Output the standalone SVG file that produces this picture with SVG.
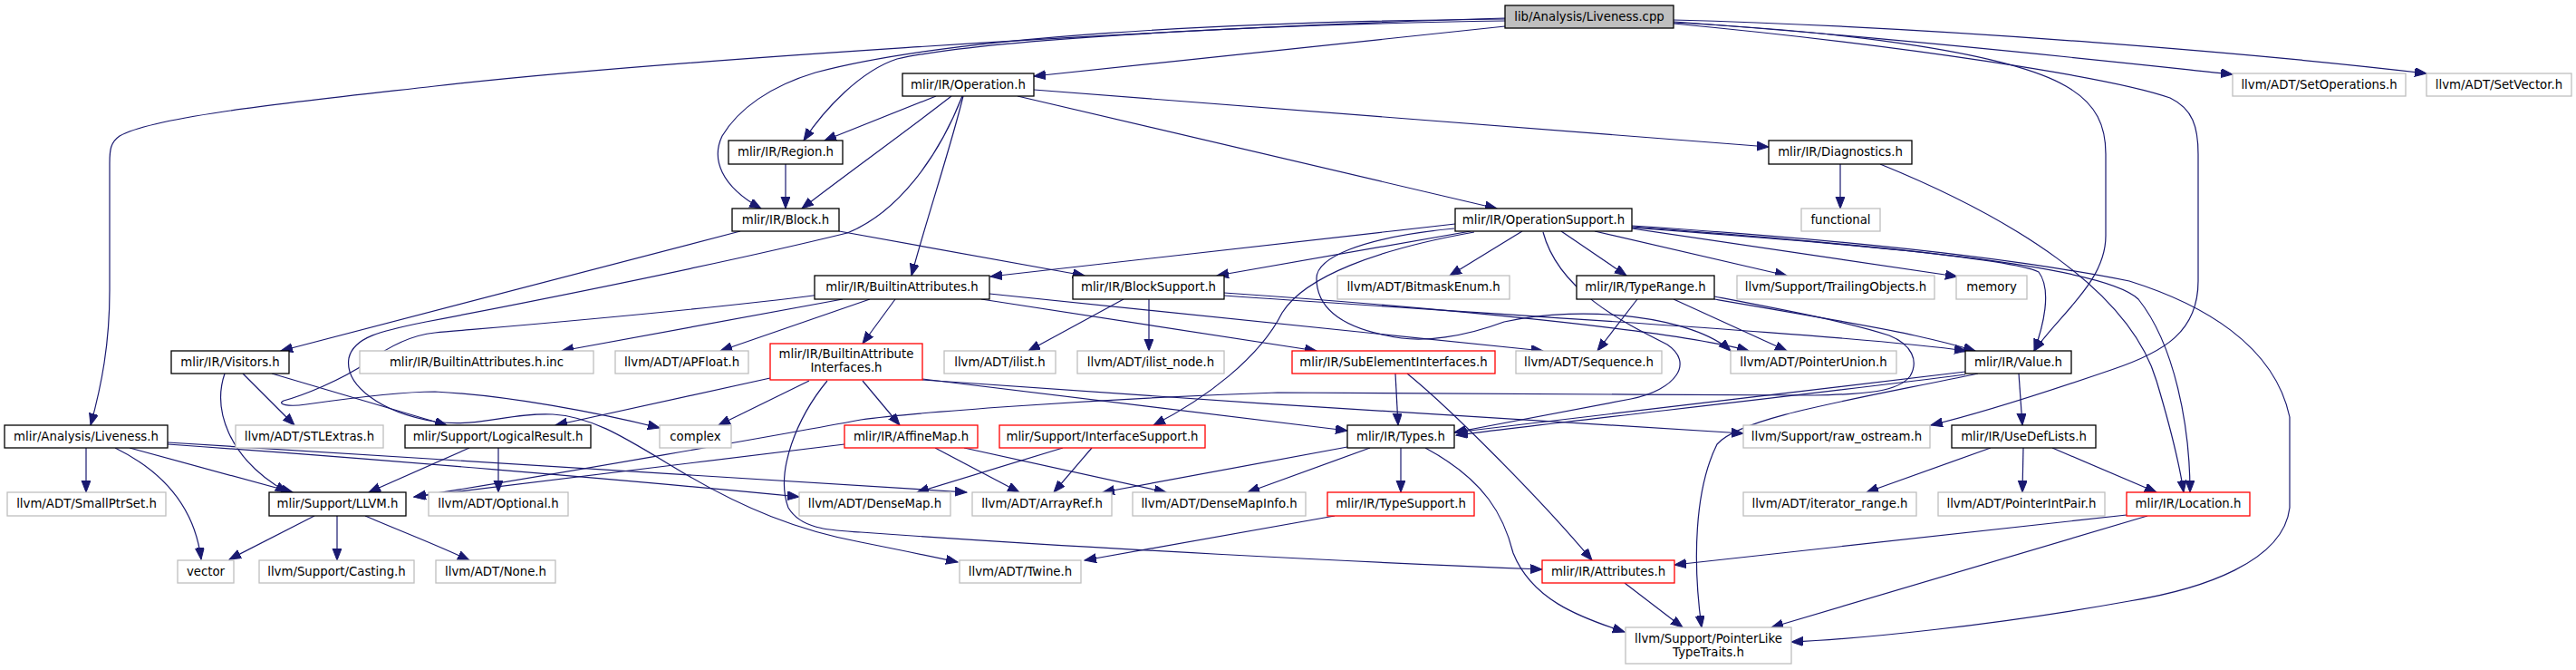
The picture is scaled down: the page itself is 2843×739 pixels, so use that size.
<svg xmlns="http://www.w3.org/2000/svg" width="2843" height="739" viewBox="0 0 2843 739">
<defs>
<marker id="ah" markerUnits="userSpaceOnUse" markerWidth="14" markerHeight="11" refX="13" refY="5" orient="auto">
<path d="M0,0 L13,5 L0,10 z" fill="#191970" stroke="#191970" stroke-width="1"/>
</marker>
<style>
.n rect{fill:#fff;stroke:#000;stroke-width:1.3}
.g rect{fill:#fff;stroke:#bfbfbf;stroke-width:1.3}
.r rect{fill:#fff;stroke:#ff0000;stroke-width:1.3}
.root rect{fill:#bfbfbf;stroke:#000;stroke-width:1.3}
text{font-family:"DejaVu Sans",Verdana,sans-serif;font-size:13.3px;fill:#000;text-anchor:middle}
#edges path{fill:none;stroke:#191970;stroke-width:1.2;marker-end:url(#ah)}
</style>
</defs>
<rect width="2843" height="739" fill="#fff"/>
<g id="edges">
<path d="M1661,20 C1250,32 700,70 480,95 C330,112 170,128 132,150 C122,157 121,165 121,180 L121,320 C121,380 112,425 100,469"/>
<path d="M1661,29 L1141,84"/>
<path d="M1661,23 C1350,28 1080,45 990,65 C950,78 910,120 887,155"/>
<path d="M1661,21 C1350,24 1050,40 900,80 C850,95 815,120 797,150 C785,175 795,205 840,230"/>
<path d="M1847,25 C2050,35 2220,60 2280,95 C2315,115 2324,140 2324,170 L2324,260 C2324,310 2275,345 2245,387"/>
<path d="M1847,26 C2100,50 2330,85 2395,108 C2420,120 2426,140 2426,170 L2426,310 C2426,365 2390,388 2330,408 C2260,432 2190,455 2131,469"/>
<path d="M1847,24 C2100,42 2350,70 2464,82"/>
<path d="M1847,22 C2150,30 2500,60 2678,81"/>
<path d="M1033,106 L910,155"/>
<path d="M1050,106 C1000,145 930,195 885,230"/>
<path d="M1063,106 C1050,160 1020,250 1006,304"/>
<path d="M1062,106 C1035,175 990,235 935,257 C800,290 600,330 470,355 C420,365 390,372 385,395 C380,425 420,455 480,465 C530,472 560,455 610,457 C660,460 700,490 760,525 C820,560 880,585 950,598 C990,606 1025,613 1057,620"/>
<path d="M1141,99 L1952,162"/>
<path d="M1123,106 L1652,230"/>
<path d="M867,181 L867,230"/>
<path d="M817,255 L310,387"/>
<path d="M926,255 L1197,304"/>
<path d="M2031,181 L2031,230"/>
<path d="M2075,181 C2220,240 2350,320 2380,420 C2395,470 2405,510 2410,543"/>
<path d="M1606,247 L1093,305"/>
<path d="M1623,255 L1343,304"/>
<path d="M1680,255 L1600,304"/>
<path d="M1723,255 L1795,304"/>
<path d="M1760,255 L1972,304"/>
<path d="M1801,252 L2160,305"/>
<path d="M1801,250 C2000,265 2220,285 2250,300 C2265,320 2255,360 2245,387"/>
<path d="M1801,251 C2050,270 2320,290 2360,330 C2400,380 2417,470 2417,543"/>
<path d="M1801,249 C2000,262 2200,280 2350,310 C2430,335 2510,380 2527,460 L2527,560 C2520,620 2430,650 2350,663 C2200,690 2050,705 1977,708"/>
<path d="M1627,256 C1520,275 1440,305 1415,345 C1390,395 1330,440 1273,469"/>
<path d="M1703,256 C1720,320 1790,355 1840,380 C1870,400 1850,430 1800,440 C1720,455 1650,468 1605,477"/>
<path d="M1605,252 C1500,262 1453,285 1453,307 C1453,340 1480,360 1530,370 C1570,380 1620,370 1660,355 C1750,335 1870,350 1910,387"/>
<path d="M988,330 L952,379"/>
<path d="M930,330 L620,387"/>
<path d="M960,330 L795,387"/>
<path d="M905,325 C750,345 560,360 480,367 C450,370 425,385 405,400 C375,420 335,436 313,442 C305,446 318,449 338,446 C380,440 440,432 480,432 C560,436 660,455 728,472"/>
<path d="M1083,330 L1453,387"/>
<path d="M1092,324 L1703,387"/>
<path d="M1240,330 L1135,387"/>
<path d="M1268,330 L1268,387"/>
<path d="M1351,323 C1600,340 1850,365 1930,387"/>
<path d="M1351,326 C1700,350 2050,370 2170,387"/>
<path d="M1807,330 L1763,387"/>
<path d="M1847,330 L1972,387"/>
<path d="M1892,330 C1980,345 2080,362 2113,370 C2140,376 2160,381 2180,387"/>
<path d="M1892,327 C1960,340 2040,355 2085,370 C2110,380 2118,398 2108,415 C2095,432 2060,435 2000,436 C1800,436 1550,432 1410,433 C1200,440 1000,456 950,463 C870,478 620,522 457,548"/>
<path d="M2228,412 L2232,469"/>
<path d="M2169,410 C2000,430 1750,460 1605,477"/>
<path d="M2169,413 C2000,435 1750,462 1607,480"/>
<path d="M2183,412 C2050,440 1920,460 1895,490 C1870,540 1868,620 1878,692"/>
<path d="M1546,494 L1546,543"/>
<path d="M1487,493 L1217,543"/>
<path d="M1512,494 L1377,543"/>
<path d="M1573,494 C1640,530 1660,570 1670,610 C1690,660 1740,680 1793,697"/>
<path d="M1540,412 L1543,469"/>
<path d="M1553,412 C1600,450 1700,550 1757,618"/>
<path d="M1793,643 L1857,692"/>
<path d="M2347,568 L1848,623"/>
<path d="M2370,569 L1955,692"/>
<path d="M2197,494 L2060,543"/>
<path d="M2233,494 L2232,543"/>
<path d="M2265,494 L2380,543"/>
<path d="M850,417 L613,469"/>
<path d="M893,420 L793,469"/>
<path d="M952,420 L993,469"/>
<path d="M913,420 C880,460 855,520 870,560 C885,585 920,585 950,587 C1200,605 1500,620 1702,628"/>
<path d="M1018,418 L1487,475"/>
<path d="M1018,419 C1300,440 1700,465 1924,478"/>
<path d="M1032,494 L1125,543"/>
<path d="M1064,494 L1287,543"/>
<path d="M932,490 L457,548"/>
<path d="M1173,494 L1012,543"/>
<path d="M1205,494 L1163,543"/>
<path d="M347,569 L253,617"/>
<path d="M372,569 L372,618"/>
<path d="M403,569 C440,585 480,600 518,618"/>
<path d="M518,494 L407,543"/>
<path d="M550,494 L550,543"/>
<path d="M95,494 L95,543"/>
<path d="M127,494 C180,520 215,560 222,617"/>
<path d="M143,494 L323,543"/>
<path d="M185,490 C400,505 700,530 882,548"/>
<path d="M185,488 C500,505 800,525 1067,543"/>
<path d="M248,412 C235,450 250,505 317,543"/>
<path d="M268,412 L325,469"/>
<path d="M300,412 L493,469"/>
<path d="M1473,569 L1197,618"/>
</g>
<g id="n0" class="root"><rect x="1661" y="6" width="186" height="25"/><text x="1754" y="23">lib/Analysis/Liveness.cpp</text></g>
<g id="n1" class="n"><rect x="996" y="81" width="145" height="25"/><text x="1068.5" y="98">mlir/IR/Operation.h</text></g>
<g id="n2" class="n"><rect x="804" y="155" width="126" height="26"/><text x="867" y="172">mlir/IR/Region.h</text></g>
<g id="n3" class="n"><rect x="808" y="230" width="118" height="25"/><text x="867" y="247">mlir/IR/Block.h</text></g>
<g id="n4" class="n"><rect x="1952" y="155" width="158" height="26"/><text x="2031" y="172">mlir/IR/Diagnostics.h</text></g>
<g id="n5" class="g"><rect x="1988" y="230" width="87" height="25"/><text x="2031.5" y="247">functional</text></g>
<g id="n6" class="g"><rect x="2464" y="81" width="191" height="25"/><text x="2559.5" y="98">llvm/ADT/SetOperations.h</text></g>
<g id="n7" class="g"><rect x="2678" y="81" width="160" height="25"/><text x="2758" y="98">llvm/ADT/SetVector.h</text></g>
<g id="n8" class="n"><rect x="1606" y="230" width="195" height="25"/><text x="1703.5" y="247">mlir/IR/OperationSupport.h</text></g>
<g id="n9" class="n"><rect x="899" y="304" width="193" height="26"/><text x="995.5" y="321">mlir/IR/BuiltinAttributes.h</text></g>
<g id="n10" class="n"><rect x="1184" y="304" width="167" height="26"/><text x="1267.5" y="321">mlir/IR/BlockSupport.h</text></g>
<g id="n11" class="g"><rect x="1476" y="304" width="190" height="26"/><text x="1571" y="321">llvm/ADT/BitmaskEnum.h</text></g>
<g id="n12" class="n"><rect x="1740" y="304" width="152" height="26"/><text x="1816" y="321">mlir/IR/TypeRange.h</text></g>
<g id="n13" class="g"><rect x="1917" y="304" width="218" height="26"/><text x="2026" y="321">llvm/Support/TrailingObjects.h</text></g>
<g id="n14" class="g"><rect x="2159" y="304" width="78" height="26"/><text x="2198" y="321">memory</text></g>
<g id="n15" class="n"><rect x="189" y="387" width="130" height="25"/><text x="254" y="404">mlir/IR/Visitors.h</text></g>
<g id="n16" class="g"><rect x="397" y="387" width="258" height="25"/><text x="526" y="404">mlir/IR/BuiltinAttributes.h.inc</text></g>
<g id="n17" class="g"><rect x="679" y="387" width="147" height="25"/><text x="752.5" y="404">llvm/ADT/APFloat.h</text></g>
<g id="n18" class="r"><rect x="850" y="379" width="168" height="40"/><text x="934" y="395">mlir/IR/BuiltinAttribute</text><text x="934" y="410">Interfaces.h</text></g>
<g id="n19" class="g"><rect x="1042" y="387" width="123" height="25"/><text x="1103.5" y="404">llvm/ADT/ilist.h</text></g>
<g id="n20" class="g"><rect x="1189" y="387" width="162" height="25"/><text x="1270" y="404">llvm/ADT/ilist_node.h</text></g>
<g id="n21" class="r"><rect x="1426" y="387" width="224" height="25"/><text x="1538" y="404">mlir/IR/SubElementInterfaces.h</text></g>
<g id="n22" class="g"><rect x="1673" y="387" width="161" height="25"/><text x="1753.5" y="404">llvm/ADT/Sequence.h</text></g>
<g id="n23" class="g"><rect x="1910" y="387" width="183" height="25"/><text x="2001.5" y="404">llvm/ADT/PointerUnion.h</text></g>
<g id="n24" class="n"><rect x="2169" y="387" width="117" height="25"/><text x="2227.5" y="404">mlir/IR/Value.h</text></g>
<g id="n25" class="n"><rect x="5" y="469" width="180" height="25"/><text x="95" y="486">mlir/Analysis/Liveness.h</text></g>
<g id="n26" class="g"><rect x="260" y="469" width="163" height="25"/><text x="341.5" y="486">llvm/ADT/STLExtras.h</text></g>
<g id="n27" class="n"><rect x="447" y="469" width="205" height="25"/><text x="549.5" y="486">mlir/Support/LogicalResult.h</text></g>
<g id="n28" class="g"><rect x="728" y="469" width="79" height="25"/><text x="767.5" y="486">complex</text></g>
<g id="n29" class="r"><rect x="932" y="469" width="147" height="25"/><text x="1005.5" y="486">mlir/IR/AffineMap.h</text></g>
<g id="n30" class="r"><rect x="1103" y="469" width="227" height="25"/><text x="1216.5" y="486">mlir/Support/InterfaceSupport.h</text></g>
<g id="n31" class="n"><rect x="1487" y="469" width="118" height="25"/><text x="1546" y="486">mlir/IR/Types.h</text></g>
<g id="n32" class="g"><rect x="1924" y="469" width="206" height="25"/><text x="2027" y="486">llvm/Support/raw_ostream.h</text></g>
<g id="n33" class="n"><rect x="2154" y="469" width="159" height="25"/><text x="2233.5" y="486">mlir/IR/UseDefLists.h</text></g>
<g id="n34" class="g"><rect x="8" y="543" width="175" height="26"/><text x="95.5" y="560">llvm/ADT/SmallPtrSet.h</text></g>
<g id="n35" class="n"><rect x="297" y="543" width="151" height="26"/><text x="372.5" y="560">mlir/Support/LLVM.h</text></g>
<g id="n36" class="g"><rect x="473" y="543" width="154" height="26"/><text x="550" y="560">llvm/ADT/Optional.h</text></g>
<g id="n37" class="g"><rect x="882" y="543" width="167" height="26"/><text x="965.5" y="560">llvm/ADT/DenseMap.h</text></g>
<g id="n38" class="g"><rect x="1073" y="543" width="154" height="26"/><text x="1150" y="560">llvm/ADT/ArrayRef.h</text></g>
<g id="n39" class="g"><rect x="1250" y="543" width="191" height="26"/><text x="1345.5" y="560">llvm/ADT/DenseMapInfo.h</text></g>
<g id="n40" class="r"><rect x="1465" y="543" width="162" height="26"/><text x="1546" y="560">mlir/IR/TypeSupport.h</text></g>
<g id="n41" class="g"><rect x="1924" y="543" width="191" height="26"/><text x="2019.5" y="560">llvm/ADT/iterator_range.h</text></g>
<g id="n42" class="g"><rect x="2139" y="543" width="184" height="26"/><text x="2231" y="560">llvm/ADT/PointerIntPair.h</text></g>
<g id="n43" class="r"><rect x="2347" y="543" width="136" height="26"/><text x="2415" y="560">mlir/IR/Location.h</text></g>
<g id="n44" class="g"><rect x="196" y="618" width="62" height="25"/><text x="227" y="635">vector</text></g>
<g id="n45" class="g"><rect x="286" y="618" width="171" height="25"/><text x="371.5" y="635">llvm/Support/Casting.h</text></g>
<g id="n46" class="g"><rect x="481" y="618" width="132" height="25"/><text x="547" y="635">llvm/ADT/None.h</text></g>
<g id="n47" class="g"><rect x="1059" y="618" width="134" height="25"/><text x="1126" y="635">llvm/ADT/Twine.h</text></g>
<g id="n48" class="r"><rect x="1702" y="618" width="146" height="25"/><text x="1775" y="635">mlir/IR/Attributes.h</text></g>
<g id="n49" class="g"><rect x="1794" y="692" width="183" height="40"/><text x="1885.5" y="709">llvm/Support/PointerLike</text><text x="1885.5" y="724">TypeTraits.h</text></g>
</svg>
